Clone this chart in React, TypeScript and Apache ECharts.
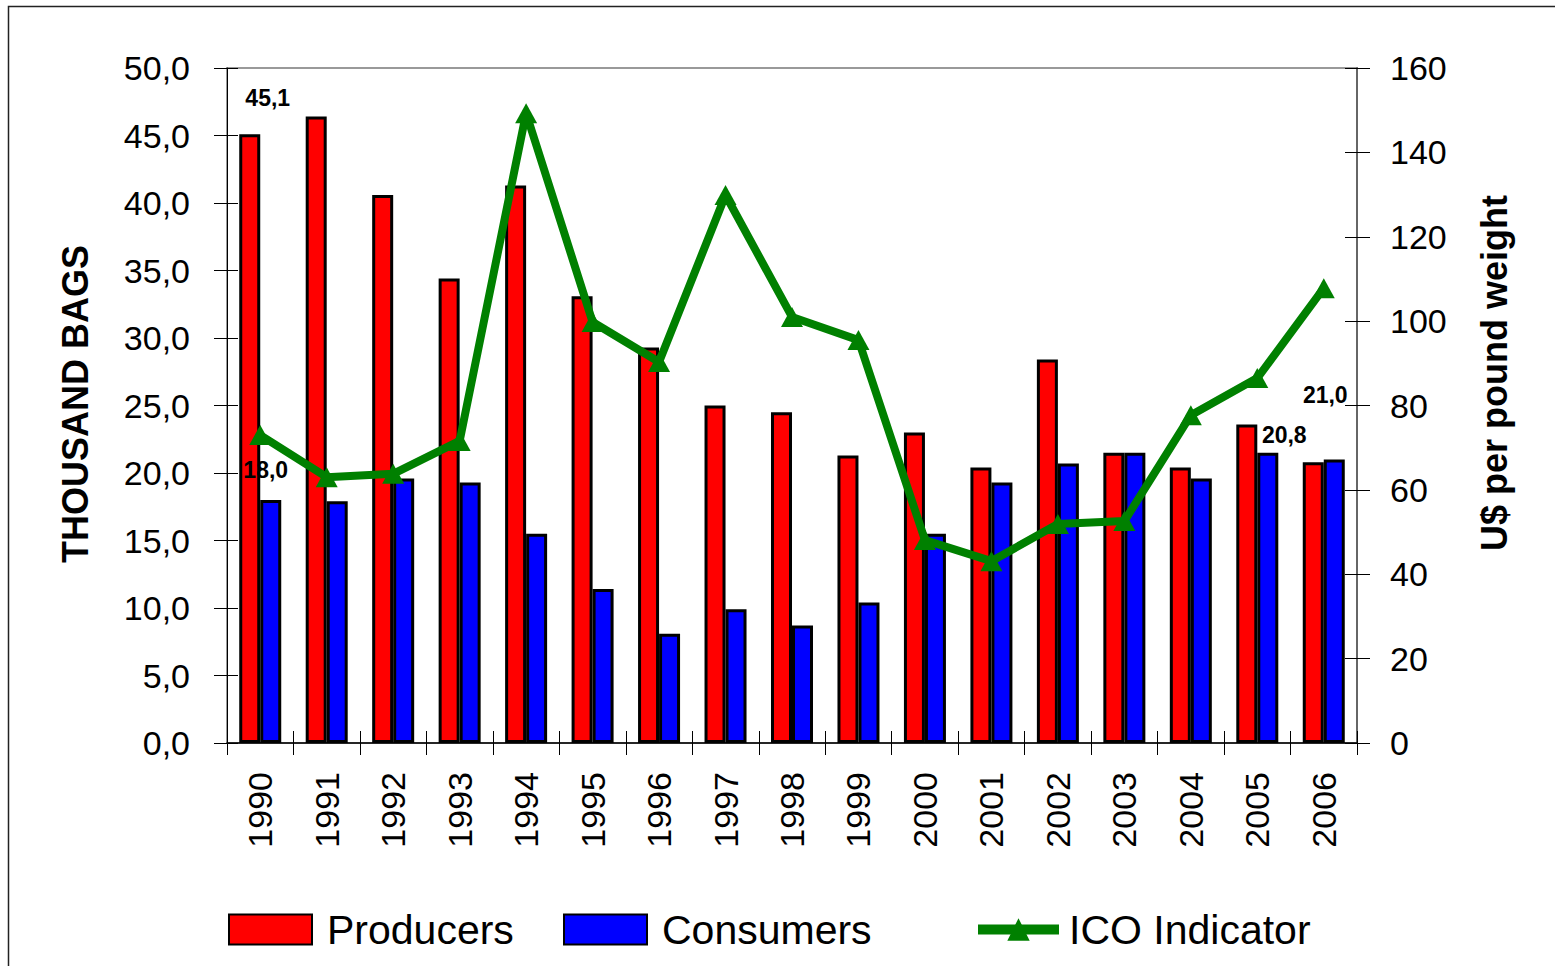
import React, { useEffect, useRef } from "react";
import * as echarts from "echarts";

const years = ["1990","1991","1992","1993","1994","1995","1996","1997","1998","1999","2000","2001","2002","2003","2004","2005","2006"];
const producers = [45.1, 46.4, 40.6, 34.4, 41.3, 33.1, 29.3, 25.0, 24.5, 21.3, 23.0, 20.4, 28.4, 21.5, 20.4, 23.6, 20.8];
const consumers = [18.0, 17.9, 19.6, 19.3, 15.5, 11.4, 8.1, 9.9, 8.7, 10.4, 15.5, 19.3, 20.7, 21.5, 19.6, 21.5, 21.0];
const icoIndicator = [73.0, 63.0, 63.8, 71.6, 149.3, 99.8, 90.3, 129.9, 101.0, 95.5, 48.1, 43.1, 51.9, 52.6, 77.7, 86.5, 107.8];
const leftTicks = { min: 0, max: 50, interval: 5 };
const rightTicks = { min: 0, max: 160, interval: 20 };

const FONT = "'Liberation Sans', Arial, sans-serif";
const fmt = (v: number) => v.toFixed(1).replace(".", ",");

// which bars carry a value label, with their label offsets
const producerLabels: Record<number, number[]> = { 0: [18, -20], 16: [-29, -11] };
const consumerLabels: Record<number, number[]> = { 0: [-5, -14], 16: [-9, -48] };

function withLabels(values: number[], labels: Record<number, number[]>) {
  return values.map((v, i) =>
    labels[i]
      ? {
          value: v,
          label: {
            show: true,
            position: "top",
            offset: labels[i],
            formatter: (p: any) => fmt(p.value),
            fontSize: 23,
            fontWeight: "bold",
            color: "#000",
            fontFamily: FONT,
          },
        }
      : v
  );
}

export default function App() {
  const ref = useRef<HTMLDivElement>(null);
  useEffect(() => {
    if (!ref.current) return;
    const chart = echarts.init(ref.current, undefined, { renderer: "svg" });
    const axisLabelStyle = { fontSize: 34, color: "#000", fontFamily: FONT };
    const legendText = { fontSize: 41, color: "#000", fontFamily: FONT, padding: [0, 0, 0, 10] };
    chart.setOption({
      animation: false,
      backgroundColor: "#fff",
      grid: {
        left: 227,
        right: 198,
        top: 68,
        bottom: 223,
        show: true,
        borderColor: "#999",
        borderWidth: 2,
        backgroundColor: "transparent",
      },
      legend: [
        {
          data: ["Producers"],
          icon: "rect",
          left: 228,
          top: 909,
          padding: 0,
          itemWidth: 83,
          itemHeight: 30,
          textStyle: legendText,
        },
        {
          data: ["Consumers"],
          icon: "rect",
          left: 563,
          top: 909,
          padding: 0,
          itemWidth: 83,
          itemHeight: 30,
          textStyle: legendText,
        },
        {
          data: ["ICO Indicator"],
          left: 973,
          top: 909,
          padding: 0,
          itemWidth: 81,
          itemHeight: 28,
          lineStyle: { width: 10, color: "#008000" },
          textStyle: { ...legendText, padding: [0, 0, 0, 5] },
        },
      ],
      xAxis: [
        {
          type: "category",
          data: years,
          boundaryGap: true,
          axisLine: { lineStyle: { color: "#000", width: 1.5 } },
          axisTick: { show: true, interval: 0, length: 12, lineStyle: { color: "#000" } },
          axisLabel: { ...axisLabelStyle, rotate: 90, interval: 0, margin: 29 },
          splitLine: { show: false },
        },
        {
          type: "category",
          data: years,
          position: "bottom",
          boundaryGap: true,
          axisLine: { show: false },
          axisTick: { show: true, inside: true, interval: 0, length: 12, lineStyle: { color: "#000" } },
          axisLabel: { show: false },
          splitLine: { show: false },
        },
      ],
      yAxis: [
        {
          type: "value",
          ...leftTicks,
          position: "left",
          axisLine: { show: true, lineStyle: { color: "#000", width: 1 } },
          axisTick: { show: true, length: 13, lineStyle: { color: "#000" } },
          axisLabel: { ...axisLabelStyle, margin: 37, formatter: (v: number) => fmt(v) },
          splitLine: { show: false },
        },
        {
          type: "value",
          ...rightTicks,
          position: "right",
          axisLine: { show: true, lineStyle: { color: "#666", width: 2 } },
          axisTick: { show: true, length: 13, lineStyle: { color: "#000" } },
          axisLabel: { ...axisLabelStyle, margin: 33 },
          splitLine: { show: false },
        },
        {
          type: "value",
          ...leftTicks,
          position: "left",
          axisLine: { show: false },
          axisTick: { show: true, inside: true, length: 11, lineStyle: { color: "#000" } },
          axisLabel: { show: false },
          splitLine: { show: false },
        },
        {
          type: "value",
          ...rightTicks,
          position: "right",
          axisLine: { show: false },
          axisTick: { show: true, inside: true, length: 12, lineStyle: { color: "#000" } },
          axisLabel: { show: false },
          splitLine: { show: false },
        },
      ],
      series: [
        {
          name: "Producers",
          type: "bar",
          yAxisIndex: 0,
          data: withLabels(producers, producerLabels),
          barWidth: 21,
          barGap: "0%",
          itemStyle: { color: "#FF0000", borderColor: "#000", borderWidth: 3 },
          z: 2,
        },
        {
          name: "Consumers",
          type: "bar",
          yAxisIndex: 0,
          data: withLabels(consumers, consumerLabels),
          barWidth: 21,
          barGap: "0%",
          itemStyle: { color: "#0000FF", borderColor: "#000", borderWidth: 3 },
          z: 2,
        },
        {
          name: "ICO Indicator",
          type: "line",
          yAxisIndex: 1,
          data: icoIndicator,
          symbol: "triangle",
          symbolSize: [22, 20],
          lineStyle: { color: "#008000", width: 8 },
          itemStyle: { color: "#008000" },
          z: 3,
        },
      ],
      graphic: [
        {
          type: "rect",
          shape: { x: 8.5, y: 6.5, width: 3000, height: 3000 },
          style: { fill: "none", stroke: "#222", lineWidth: 1.5 },
          silent: true,
        },
        {
          type: "text",
          x: 75,
          y: 404,
          rotation: Math.PI / 2,
          style: {
            text: "THOUSAND BAGS",
            fontSize: 36,
            fontWeight: "bold",
            fontFamily: FONT,
            fill: "#000",
            align: "center",
            verticalAlign: "middle",
          },
        },
        {
          type: "text",
          x: 1494,
          y: 373,
          rotation: Math.PI / 2,
          style: {
            text: "U$ per pound weight",
            fontSize: 36,
            fontWeight: "bold",
            fontFamily: FONT,
            fill: "#000",
            align: "center",
            verticalAlign: "middle",
          },
        },
      ],
    });
    return () => chart.dispose();
  }, []);
  return (
    <div
      ref={ref}
      style={{ position: "fixed", left: 0, top: 0, width: 1555, height: 966 }}
    />
  );
}
